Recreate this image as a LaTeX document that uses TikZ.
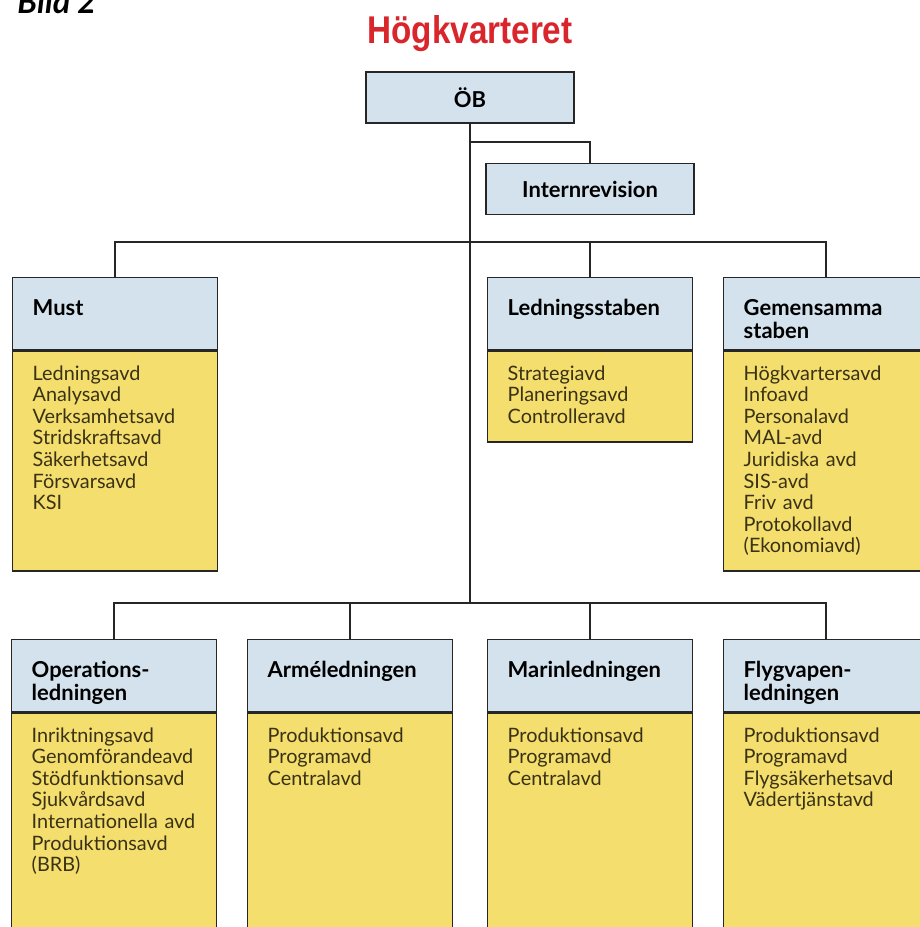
\documentclass[tikz,border=0pt]{standalone}
\usepackage{fontspec}
\setmainfont{Lato}
\newfontfamily\titlefont{Liberation Sans}
\usepackage{graphicx}
\usepackage{xcolor}
\definecolor{headblue}{HTML}{D3E2EC}
\definecolor{listyellow}{HTML}{F4DE6E}
\definecolor{titlered}{HTML}{D8262C}
\definecolor{listtext}{HTML}{3A3214}
\definecolor{linegrey}{HTML}{262626}

\begin{document}
\begin{tikzpicture}[x=0.02cm,y=-0.02cm,
  topbox/.style={draw=linegrey, line width=0.8pt, fill=headblue, minimum width=4.16cm,
    minimum height=1.02cm, inner sep=0pt, font=\fontsize{12.5}{13}\selectfont\bfseries},
  head/.style={draw=linegrey, line width=0.8pt, fill=headblue, anchor=north west,
    inner xsep=0.4cm, inner ysep=0pt, text width=3.3cm, align=left,
    text height=0.76cm, text depth=0.68cm, font=\fontsize{12.5}{13}\selectfont\bfseries},
  list/.style={draw=linegrey, line width=0.8pt, fill=listyellow, anchor=north west,
    inner xsep=0.4cm, inner ysep=0pt, text width=3.3cm, align=left,
    text height=0.58cm, text=listtext, font=\fontsize{11.3}{12.3}\selectfont},
  link/.style={draw=linegrey, line width=0.8pt}]
\useasboundingbox[fill=white] (0,0) rectangle (920,927);

\node[anchor=base west, inner sep=0pt, font=\fontsize{18.5}{20}\selectfont\bfseries\itshape] (bild) at (17,13) {Bild 2};
\node[anchor=base, inner sep=0pt, text=titlered, font=\fontsize{22}{24}\titlefont\bfseries] (title) at (470,43) {\scalebox{0.86}[1]{Högkvarteret}};

\node[topbox] (ob) at (470,97.5) {ÖB};
\node[topbox] (rev) at (590,189) {Internrevision};

\node[head] (must) at (12,277) {Must};
\node[list, text depth=3.82cm] (mustlist) at (must.south west) {Ledningsavd\\Analysavd\\Verksamhetsavd\\Stridskraftsavd\\Säkerhetsavd\\Försvarsavd\\KSI};

\node[head] (ledn) at (487,277) {Ledningsstaben};
\node[list, text depth=1.24cm] (lednlist) at (ledn.south west) {Strategiavd\\Planeringsavd\\Controlleravd};

\node[head] (gem) at (723,277) {Gemensamma\\staben};
\node[list, text depth=3.82cm] (gemlist) at (gem.south west) {Högkvartersavd\\Infoavd\\Personalavd\\MAL-avd\\Juridiska~avd\\SIS-avd\\Friv~avd\\Protokollavd\\(Ekonomiavd)};

\node[head] (ops) at (11,639) {Operations-\\ledningen};
\node[list, text depth=4.1cm] (opslist) at (ops.south west) {Inriktningsavd\\Genomförandeavd\\Stödfunktionsavd\\Sjukvårdsavd\\Internationella~avd\\Produktionsavd\\(BRB)};

\node[head] (arme) at (247,639) {Arméledningen};
\node[list, text depth=4.1cm] (armelist) at (arme.south west) {Produktionsavd\\Programavd\\Centralavd};

\node[head] (marin) at (487,639) {Marinledningen};
\node[list, text depth=4.1cm] (marinlist) at (marin.south west) {Produktionsavd\\Programavd\\Centralavd};

\node[head] (flyg) at (723,639) {Flygvapen-\\ledningen};
\node[list, text depth=4.1cm] (flyglist) at (flyg.south west) {Produktionsavd\\Programavd\\Flygsäkerhetsavd\\Vädertjänstavd};

\coordinate (revjoin) at (470,142);
\coordinate (upper) at (470,242);
\coordinate (lower) at (470,603);

\draw[link] (ob.south) -- (lower);
\draw[link] (revjoin) -| (rev.north);
\draw[link] (must.north) |- (upper) -| (gem.north);
\draw[link] (ledn.north) -- (ledn.north |- upper);
\draw[link] (ops.north) |- (lower) -| (flyg.north);
\draw[link] (arme.north) -- (arme.north |- lower);
\draw[link] (marin.north) -- (marin.north |- lower);

\end{tikzpicture}
\end{document}
